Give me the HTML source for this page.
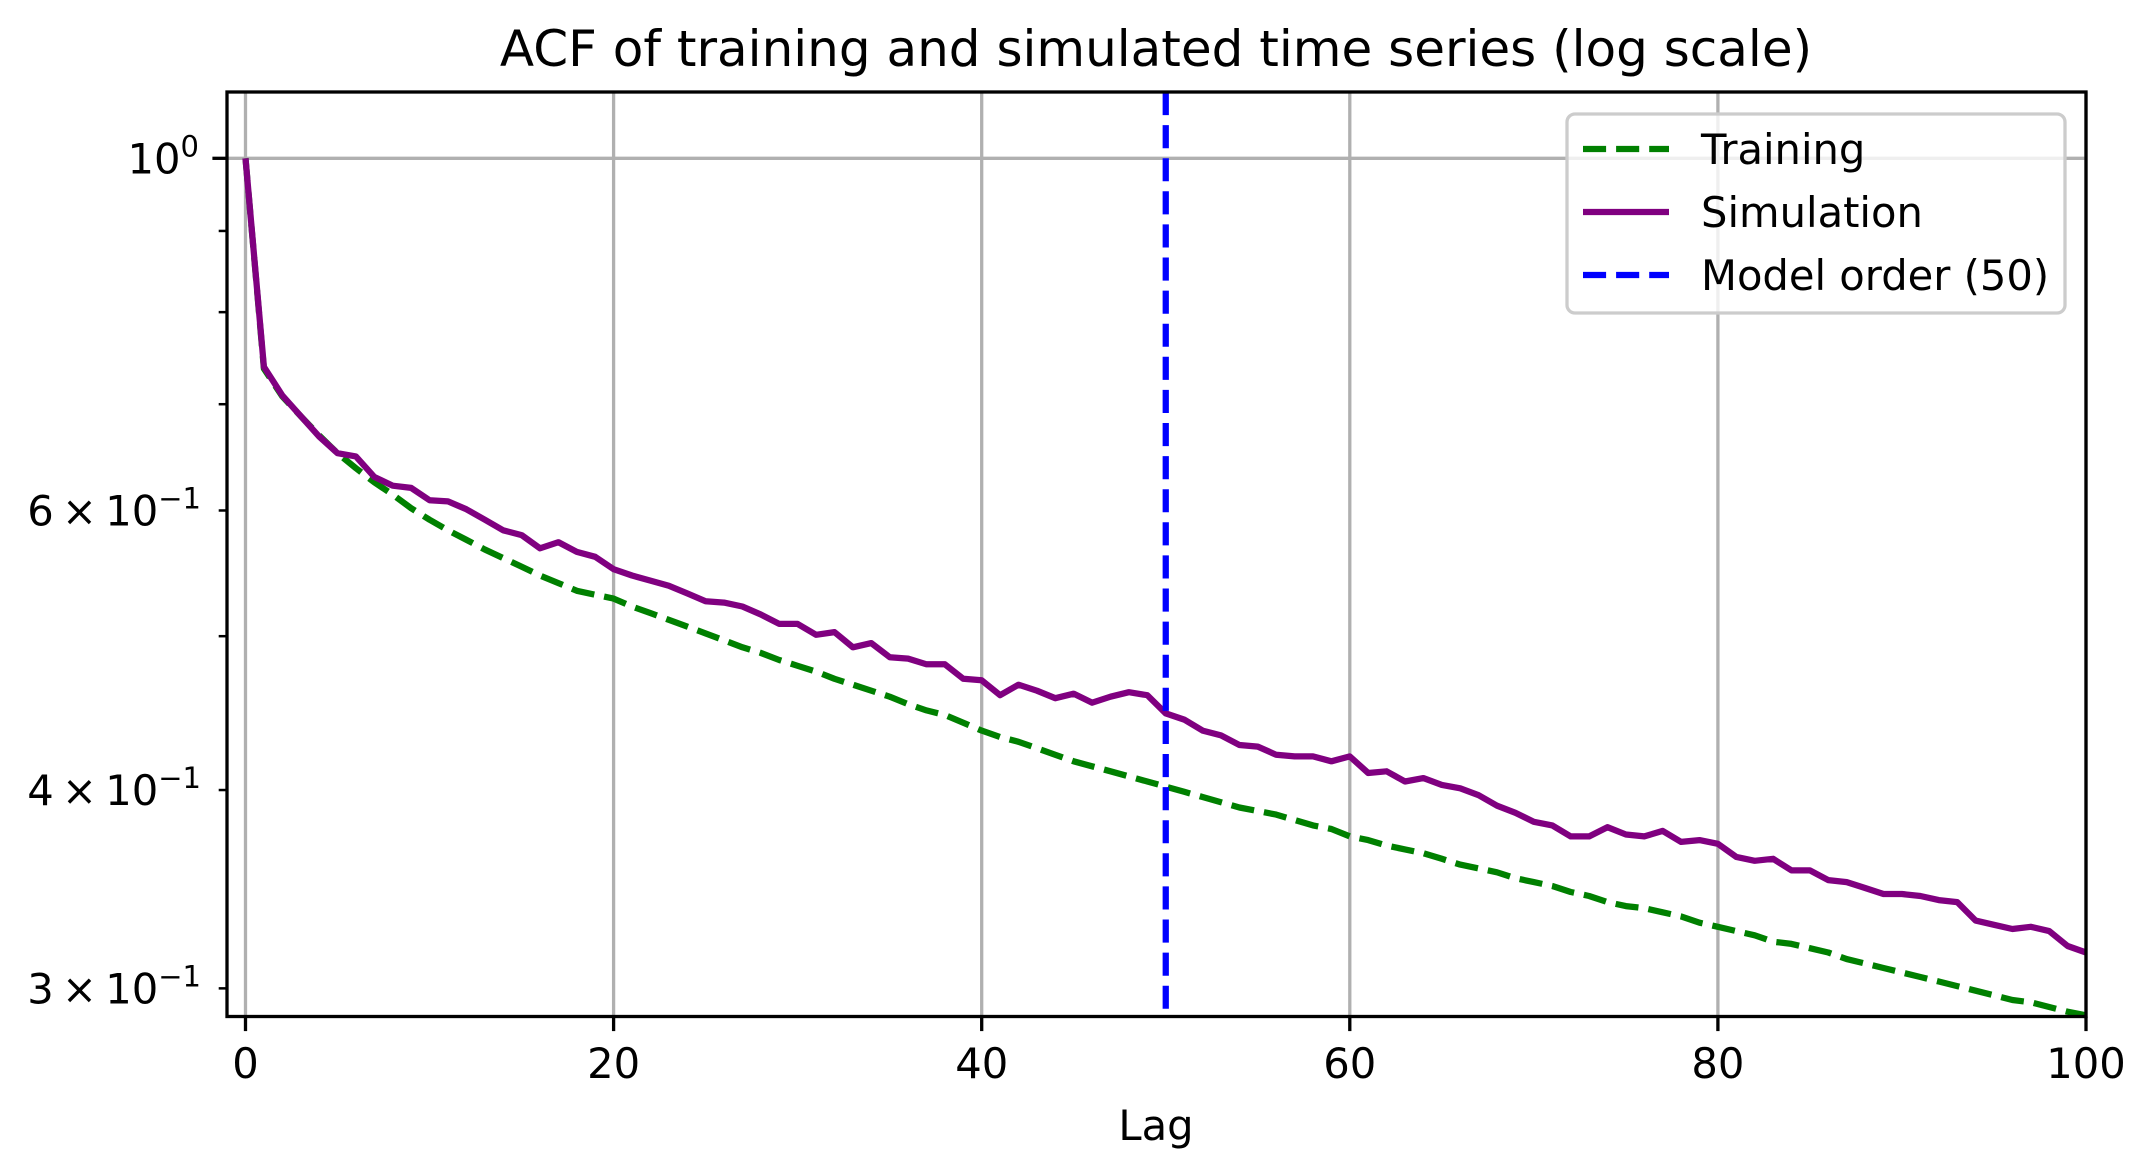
<!DOCTYPE html>
<html><head><meta charset="utf-8"><style>
html,body{margin:0;padding:0;background:#fff;}
svg{display:block;}
text{font-family:"DejaVu Sans","Liberation Sans",sans-serif;fill:#000;}
</style></head><body>
<svg id="chart" width="2155" height="1176" viewBox="0 0 2155 1176" xmlns="http://www.w3.org/2000/svg">
<rect width="2155" height="1176" fill="#fff"/>
<text x="1156" y="66" font-size="50" text-anchor="middle">ACF of training and simulated time series (log scale)</text>
<text x="1156" y="1140" font-size="41.67" text-anchor="middle">Lag</text>
<g id="grid"></g><g id="series"></g><g id="axes"></g><g id="legend"></g>
</svg>
<script>
const lags = Array.from({length:101},(_,i)=>i);
const training = [1.0,0.737,0.708,0.688,0.669,0.652,0.638,0.625,0.614,0.602,0.592,0.583,0.575,0.567,0.560,0.553,0.546,0.540,0.534,0.531,0.528,0.522,0.517,0.512,0.507,0.502,0.497,0.492,0.488,0.483,0.479,0.475,0.470,0.466,0.462,0.458,0.453,0.449,0.446,0.441,0.436,0.432,0.429,0.425,0.421,0.417,0.414,0.411,0.408,0.405,0.402,0.399,0.396,0.393,0.390,0.388,0.386,0.383,0.380,0.378,0.374,0.372,0.369,0.367,0.365,0.362,0.359,0.357,0.355,0.352,0.350,0.348,0.345,0.343,0.340,0.338,0.337,0.335,0.333,0.330,0.328,0.326,0.324,0.321,0.320,0.318,0.316,0.313,0.311,0.309,0.307,0.305,0.303,0.301,0.299,0.297,0.295,0.294,0.292,0.290,0.2885];
const simulation = [1.0,0.739,0.709,0.688,0.668,0.652,0.649,0.630,0.622,0.620,0.609,0.608,0.601,0.592,0.583,0.579,0.568,0.573,0.565,0.561,0.551,0.546,0.542,0.538,0.532,0.526,0.525,0.522,0.516,0.509,0.509,0.501,0.503,0.492,0.495,0.485,0.484,0.480,0.480,0.470,0.469,0.459,0.466,0.462,0.457,0.460,0.454,0.458,0.461,0.459,0.447,0.443,0.436,0.433,0.427,0.426,0.421,0.420,0.420,0.417,0.420,0.410,0.411,0.405,0.407,0.403,0.401,0.397,0.391,0.387,0.382,0.380,0.374,0.374,0.379,0.375,0.374,0.377,0.371,0.372,0.370,0.363,0.361,0.362,0.356,0.356,0.351,0.350,0.347,0.344,0.344,0.343,0.341,0.340,0.331,0.329,0.327,0.328,0.326,0.319,0.316];
const modelOrder = [50];
const xTicks = [0,20,40,60,80,100];
const yMajorTicks = [1.0];
const yMinorTicks = [0.3,0.4,0.5,0.6,0.7,0.8,0.9];
const yMinorLabels = {0.3:"3",0.4:"4",0.6:"6"};

const NS="http://www.w3.org/2000/svg";
const L=227,R=2086,T=92,B=1016.5;
const xMin=-1.005,xMax=100;
const yLogTop=0.04177,yLogBot=-0.5406;
const X=v=>L+(v-xMin)/(xMax-xMin)*(R-L);
const Y=v=>T+(yLogTop-Math.log10(v))/(yLogTop-yLogBot)*(B-T);
function mk(tag,attrs,parent){const e=document.createElementNS(NS,tag);for(const k in attrs)e.setAttribute(k,attrs[k]);parent.appendChild(e);return e;}
const grid=document.getElementById('grid'),series=document.getElementById('series'),axes=document.getElementById('axes'),legend=document.getElementById('legend');

xTicks.forEach(t=>{
  const g=mk('line',{x1:X(t),x2:X(t),y1:T,y2:B,stroke:'#b0b0b0','stroke-width':3.3},grid);
  
  
  const tk=mk('line',{x1:X(t),x2:X(t),y1:B,y2:B+14.6,stroke:'#000','stroke-width':3.3},axes);
  
  
  const lb=mk('text',{x:X(t),y:1078,'font-size':41.67,'text-anchor':'middle'},axes);
  lb.textContent=String(t);
  
  
});
yMajorTicks.forEach(t=>{
  const g=mk('line',{x1:L,x2:R,y1:Y(t),y2:Y(t),stroke:'#b0b0b0','stroke-width':3.3},grid);
  
  
  const tk=mk('line',{x1:L-14.6,x2:L,y1:Y(t),y2:Y(t),stroke:'#000','stroke-width':3.3},axes);
  
  
  const lb=mk('text',{x:199,y:Y(t)+15,'font-size':41.67,'text-anchor':'end'},axes);
  lb.innerHTML='10<tspan font-size="29" dy="-17">0</tspan>';
  
  
});
yMinorTicks.forEach(t=>{
  const tk=mk('line',{x1:L-8.3,x2:L,y1:Y(t),y2:Y(t),stroke:'#000','stroke-width':2.5},axes);
  
  
  if(yMinorLabels[t]){
    const lb=mk('text',{x:201,y:Y(t)+15,'font-size':41.67,'text-anchor':'end'},axes);
    lb.innerHTML=yMinorLabels[t]+'\u2009×\u200910<tspan font-size="29" dy="-17">−1</tspan>';
    
    
  }
});
function path(vals){return vals.map((v,i)=>(i?'L':'M')+X(lags[i]).toFixed(1)+' '+Y(v).toFixed(1)).join(' ');}
const tr=mk('path',{d:path(training),fill:'none',stroke:'#008000','stroke-width':6.25,'stroke-dasharray':'23.1 10','stroke-linejoin':'round'},series);


const sm=mk('path',{d:path(simulation),fill:'none',stroke:'#800080','stroke-width':6.25,'stroke-linejoin':'round'},series);


modelOrder.forEach(m=>{
  const v=mk('line',{x1:X(m),x2:X(m),y1:T,y2:B,stroke:'#0000ff','stroke-width':6.25,'stroke-dasharray':'23.1 10'},series);
  
  
});
const frame=mk('rect',{x:L,y:T,width:R-L,height:B-T,fill:'none',stroke:'#000','stroke-width':3.3},axes);



const lbox=mk('rect',{x:1567,y:114,width:498,height:199,rx:8,fill:'#fff','fill-opacity':0.8,stroke:'#cccccc','stroke-width':3.3},legend);


const entries=[['Training','#008000',true,149,'legend-entry-training'],['Simulation','#800080',false,212,'legend-entry-simulation'],['Model order (50)','#0000ff',true,275,'legend-entry-model-order']];
entries.forEach(e=>{
  const g=mk('g',{},legend);
  
  
  const a={x1:1583,x2:1669,y1:e[3],y2:e[3],stroke:e[1],'stroke-width':6.25};
  if(e[2])a['stroke-dasharray']='23.1 10';
  mk('line',a,g);
  const t=mk('text',{x:1701,y:e[3]+15,'font-size':41.67},g);
  t.textContent=e[0];
});
</script>
</body></html>
